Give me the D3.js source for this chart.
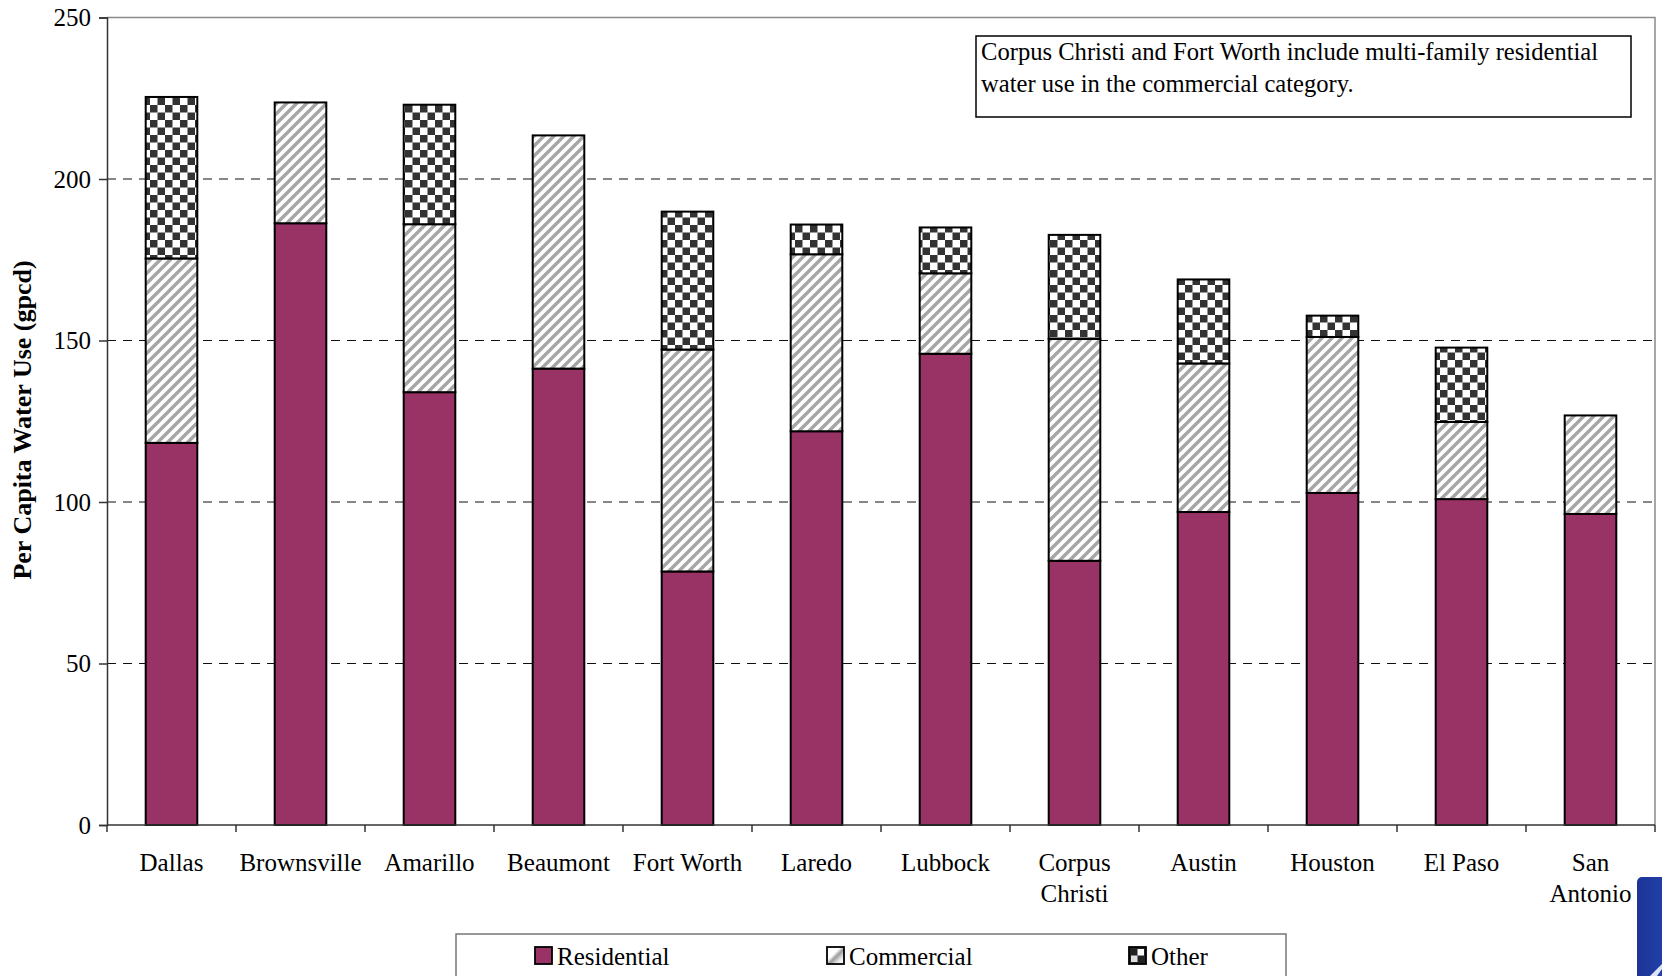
<!DOCTYPE html>
<html>
<head>
<meta charset="utf-8">
<script src="https://cdn.jsdelivr.net/npm/d3@7"></script>
<style>
  html, body { margin: 0; padding: 0; background: #fff; }
  svg { display: block; }
  svg text { font-family: "Liberation Serif", "Times New Roman", serif !important; fill: #000; }
</style>
</head>
<body>
<svg id="chart" width="1662" height="976"></svg>
<script>
// Per capita water use by city, split by sector (gallons per capita per day)
const cities = ["Dallas", "Brownsville", "Amarillo", "Beaumont", "Fort Worth", "Laredo",
                "Lubbock", "Corpus Christi", "Austin", "Houston", "El Paso", "San Antonio"];
const cityLabels = [["Dallas"], ["Brownsville"], ["Amarillo"], ["Beaumont"], ["Fort Worth"], ["Laredo"],
                    ["Lubbock"], ["Corpus", "Christi"], ["Austin"], ["Houston"], ["El Paso"], ["San", "Antonio"]];
const residential = [118.3, 186.3, 134.0, 141.3, 78.5, 121.9, 145.9, 81.8, 96.9, 102.8, 100.9, 96.3];
const commercial  = [57.1, 37.4, 52.0, 72.2, 68.7, 54.8, 24.9, 68.7, 46.0, 48.3, 23.9, 30.5];
const other       = [50.0, 0, 37.0, 0, 42.7, 9.2, 14.2, 32.2, 26.0, 6.6, 23.0, 0];
const seriesNames = ["Residential", "Commercial", "Other"];
const yTicks = [0, 50, 100, 150, 200, 250];
const gridValues = [50, 100, 150, 200];
const noteLines = ["Corpus Christi and Fort Worth include multi-family residential",
                   "water use in the commercial category."];
const yTitle = "Per Capita Water Use (gpcd)";

const FONT = "'Liberation Serif', 'Times New Roman', serif";
const svg = d3.select("#chart");
const defs = svg.append("defs");

// Diagonal hatch for the commercial sector
const hatch = defs.append("pattern")
  .attr("id", "hatch").attr("patternUnits", "userSpaceOnUse")
  .attr("width", 10).attr("height", 10);
hatch.append("rect").attr("width", 10).attr("height", 10).attr("fill", "#fff");
hatch.append("path")
  .attr("d", "M-3,3 L3,-3 M0,10 L10,0 M7,13 L13,7")
  .attr("stroke", "#a6a6a6").attr("stroke-width", 3.4);

// Checkerboard for the other sector
const check = defs.append("pattern")
  .attr("id", "check").attr("patternUnits", "userSpaceOnUse")
  .attr("width", 15).attr("height", 15);
check.append("rect").attr("width", 15).attr("height", 15).attr("fill", "#fff");
check.append("rect").attr("x", 0).attr("y", 0).attr("width", 7.5).attr("height", 7.5).attr("fill", "#333");
check.append("rect").attr("x", 7.5).attr("y", 7.5).attr("width", 7.5).attr("height", 7.5).attr("fill", "#333");

// Legend swatch fills
const hatchL = defs.append("linearGradient").attr("id", "hatchL")
  .attr("x1", "0").attr("y1", "0").attr("x2", "1").attr("y2", "1");
[[0, "#fff"], [0.4, "#fff"], [0.55, "#9a9a9a"], [0.75, "#e8e8e8"], [1, "#fff"]]
  .forEach(([o, c]) => hatchL.append("stop").attr("offset", o).attr("stop-color", c));
const checkL = defs.append("pattern")
  .attr("id", "checkL").attr("patternUnits", "userSpaceOnUse")
  .attr("x", 1129).attr("y", 947).attr("width", 17).attr("height", 17);
checkL.append("rect").attr("width", 17).attr("height", 17).attr("fill", "#222");
checkL.append("rect").attr("x", 8.5).attr("y", 2).attr("width", 6.5).attr("height", 6.5).attr("fill", "#fff");
checkL.append("rect").attr("x", 2).attr("y", 8.5).attr("width", 6.5).attr("height", 6.5).attr("fill", "#ddd");

const blueGrad = defs.append("linearGradient").attr("id", "blueGrad")
  .attr("x1", "0").attr("y1", "0").attr("x2", "1").attr("y2", "0");
blueGrad.append("stop").attr("offset", 0).attr("stop-color", "#1c3494");
blueGrad.append("stop").attr("offset", 1).attr("stop-color", "#2446b4");

const fills = ["#993366", "url(#hatch)", "url(#check)"];
const legendFills = ["#993366", "url(#hatchL)", "url(#checkL)"];

const plot = { left: 107, right: 1655, top: 17.5, bottom: 825 };

const x = d3.scaleBand().domain(cities)
  .range([plot.left, plot.right]).paddingInner(0.6).paddingOuter(0.3);
const y = d3.scaleLinear().domain([0, 250]).range([plot.bottom, plot.top]);

// Gridlines
svg.append("g").selectAll("line").data(gridValues).join("line")
  .attr("x1", plot.left).attr("x2", plot.right)
  .attr("y1", d => y(d)).attr("y2", d => y(d))
  .attr("stroke", "#111").attr("stroke-width", 1.1).attr("stroke-dasharray", "9,7");

// Frame: top and right borders
svg.append("path")
  .attr("d", `M${plot.left},${y(250)} H${plot.right} V${plot.bottom}`)
  .attr("fill", "none").attr("stroke", "#8a8a8a").attr("stroke-width", 1.5);

// Stacked bars
const rows = cities.map((c, i) => ({ city: c, Residential: residential[i], Commercial: commercial[i], Other: other[i] }));
const stacked = d3.stack().keys(seriesNames)(rows);
const barG = svg.append("g");
stacked.forEach((layer, k) => {
  barG.append("g").selectAll("rect")
    .data(layer.filter(d => d[1] - d[0] > 0)).join("rect")
    .attr("x", d => x(d.data.city))
    .attr("y", d => y(d[1]))
    .attr("width", x.bandwidth())
    .attr("height", d => y(d[0]) - y(d[1]))
    .attr("fill", fills[k])
    .attr("stroke", "#000").attr("stroke-width", 2);
});

// Y axis
const yAxis = d3.axisLeft(y).tickValues(yTicks).tickSize(8).tickPadding(8);
const yg = svg.append("g").attr("transform", `translate(${plot.left},0)`).call(yAxis)
  .attr("font-family", FONT).attr("font-size", 25);
yg.select(".domain").attr("stroke", "#333").attr("stroke-width", 1.5);
yg.selectAll(".tick line").attr("stroke", "#333").attr("stroke-width", 1.5);
yg.selectAll(".tick text").attr("fill", "#000");

// X axis: ticks at category boundaries
const step = x.step();
const bounds = d3.range(cities.length + 1).map(i => plot.left + i * step);
const xg = svg.append("g");
xg.append("line").attr("x1", plot.left).attr("x2", plot.right)
  .attr("y1", plot.bottom).attr("y2", plot.bottom)
  .attr("stroke", "#333").attr("stroke-width", 1.5);
xg.selectAll("line.tk").data(bounds).join("line").attr("class", "tk")
  .attr("x1", d => d).attr("x2", d => d)
  .attr("y1", plot.bottom).attr("y2", plot.bottom + 7)
  .attr("stroke", "#333").attr("stroke-width", 1.5);
xg.selectAll("text").data(cities).join("text")
  .attr("text-anchor", "middle")
  .attr("x", d => x(d) + x.bandwidth() / 2)
  .attr("y", 871)
  .attr("font-family", FONT).attr("font-size", 25)
  .each(function(d, i) {
    d3.select(this).selectAll("tspan").data(cityLabels[i]).join("tspan")
      .attr("x", x(d) + x.bandwidth() / 2)
      .attr("dy", (t, j) => j === 0 ? 0 : 31)
      .text(t => t);
  });

// Y axis title
svg.append("text")
  .attr("transform", `translate(31,420) rotate(-90)`)
  .attr("text-anchor", "middle")
  .attr("font-family", FONT).attr("font-size", 26).attr("font-weight", "bold")
  .text(yTitle);

// Note box
const note = svg.append("g");
note.append("rect").attr("x", 976).attr("y", 36).attr("width", 655).attr("height", 81)
  .attr("fill", "#fff").attr("stroke", "#000").attr("stroke-width", 1.5);
note.selectAll("text").data(noteLines).join("text")
  .attr("x", 981).attr("y", (d, i) => 60 + i * 32)
  .attr("font-family", FONT).attr("font-size", 24.6).text(d => d);

// Legend
const legend = svg.append("g");
legend.append("rect").attr("x", 456).attr("y", 934).attr("width", 830).attr("height", 60)
  .attr("fill", "#fff").attr("stroke", "#777").attr("stroke-width", 1.5);
const legendX = [535, 827, 1129];
seriesNames.forEach((name, i) => {
  legend.append("rect").attr("x", legendX[i]).attr("y", 947).attr("width", 17).attr("height", 17)
    .attr("fill", legendFills[i]).attr("stroke", "#000").attr("stroke-width", 1.8);
  legend.append("text").attr("x", legendX[i] + 22).attr("y", 965)
    .attr("font-family", FONT).attr("font-size", 25).text(name);
});

// Corner tab
svg.append("rect").attr("x", 1637).attr("y", 877).attr("width", 40).attr("height", 110)
  .attr("rx", 5).attr("fill", "url(#blueGrad)");
svg.append("path").attr("d", "M1650,976 L1662,964 L1662,969 L1657,976 Z").attr("fill", "#dfe4f5");
</script>
</body>
</html>
